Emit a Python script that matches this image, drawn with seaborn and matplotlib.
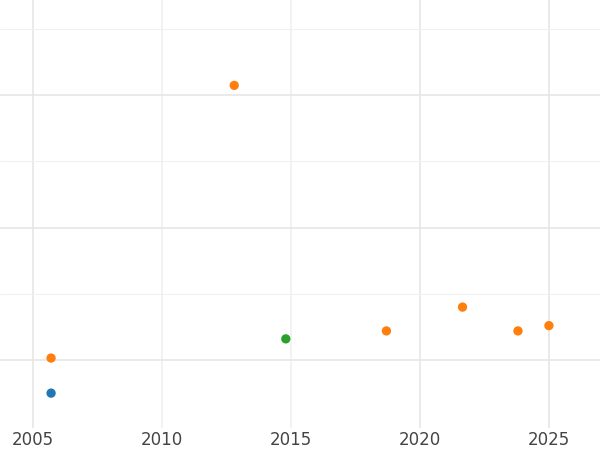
import matplotlib
matplotlib.use("Agg")
import matplotlib.pyplot as plt
import seaborn as sns
import pandas as pd

years = [2005.7, 2005.7, 2012.8, 2014.8, 2018.7, 2021.65, 2023.8, 2025.0]
values = [0.75, 1.015, 3.075, 1.16, 1.22, 1.40, 1.22, 1.26]
groups = ["a", "b", "b", "c", "b", "b", "b", "b"]
palette = {"a": "#1f77b4", "b": "#ff7f0e", "c": "#2ca02c"}

df = pd.DataFrame({"year": years, "value": values, "group": groups})

sns.set_style("white")
fig = plt.figure(figsize=(6, 4.5), dpi=100)
ax = fig.add_axes([0, 0.049, 1, 0.951])
sns.scatterplot(data=df, x="year", y="value", hue="group", palette=palette,
                s=45, edgecolor="none", legend=False, ax=ax, zorder=3)

ax.set_xlim(2003.72, 2026.98)
ax.set_ylim(0.487, 3.72)
ax.set_xticks([2005, 2010, 2015, 2020, 2025])
ax.set_yticks([1, 2, 3])
ax.set_yticks([1.5, 2.5, 3.5], minor=True)
ax.grid(True, which="major", axis="y", color="#e6e6e6", linewidth=1.2)
ax.grid(True, which="minor", axis="y", color="#f0f0f0", linewidth=0.8)
# 2005/2020/2025 darker, 2010/2015 lighter
for yr, c in [(2005, "#e6e6e6"), (2010, "#f0f0f0"), (2015, "#f0f0f0"),
              (2020, "#e6e6e6"), (2025, "#e6e6e6")]:
    ax.axvline(yr, color=c, linewidth=1.2, zorder=0)
ax.tick_params(axis="y", which="both", left=False, labelleft=False)
ax.tick_params(axis="x", length=0, labelsize=12, labelcolor="#444444", pad=2)
ax.set_xlabel("")
ax.set_ylabel("")
for s in ax.spines.values():
    s.set_visible(False)

fig.savefig("out.png", dpi=100)
